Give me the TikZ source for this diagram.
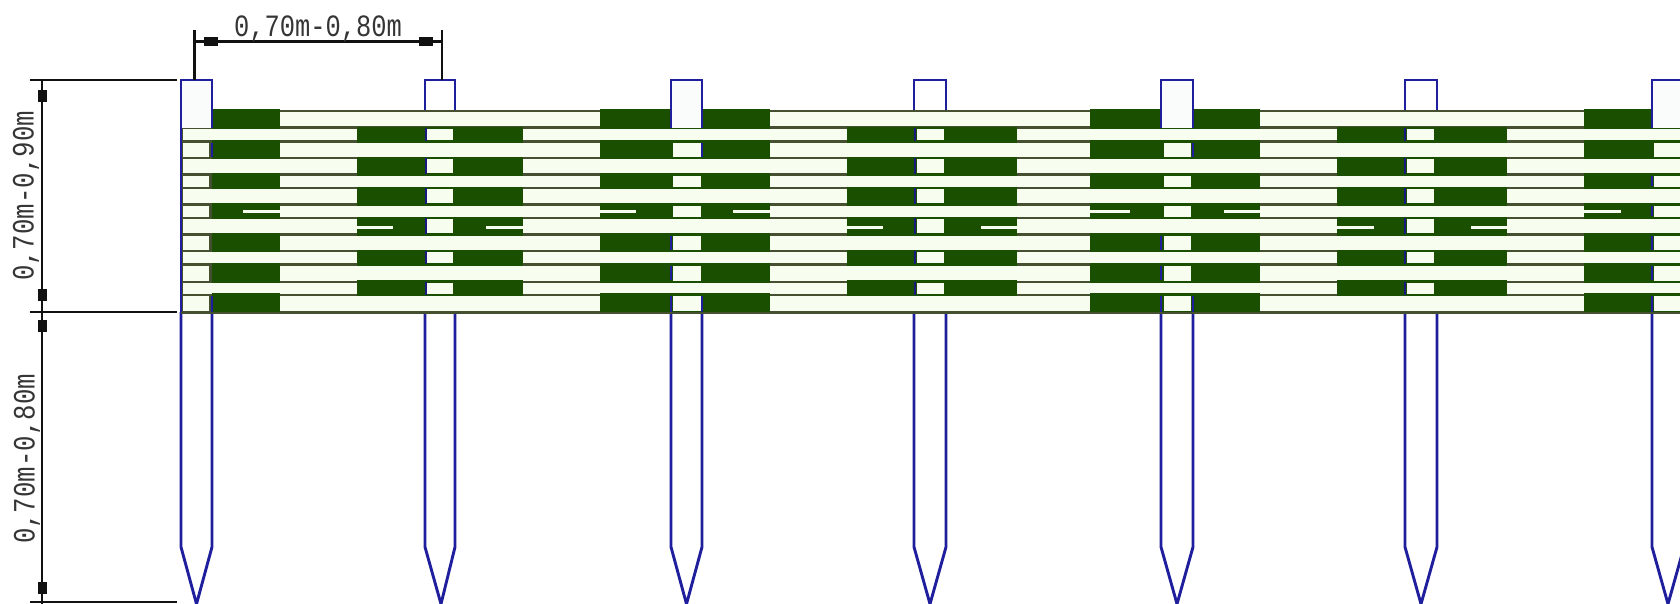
\documentclass[tikz,border=0pt]{standalone}
\usepackage{fontspec}
\newfontfamily\dimfont{Liberation Mono}
\definecolor{railgreen}{HTML}{1B4F00}
\definecolor{railline}{HTML}{44502F}
\definecolor{railpale}{HTML}{F7FDEF}
\definecolor{posttop}{HTML}{FAFCFC}
\definecolor{postblue}{HTML}{1F1F9E}
\definecolor{dimink}{HTML}{111111}
\tikzset{
  x=0.5pt,y=-0.5pt,
  postline/.style={draw=postblue,line width=1.45pt,line join=miter},
  dimline/.style={draw=dimink,line width=1.2pt},
  tick/.style={fill=dimink,draw=none},
  dimtext/.style={font=\dimfont\fontsize{15.5}{15.5}\selectfont,text=dimink!85,inner sep=0pt,transform shape},
  darkseg/.style={fill=railgreen,draw=none},
  paleseg/.style={fill=railpale,draw=none}
}
\begin{document}
\begin{tikzpicture}
\path[use as bounding box,fill=white] (0,0) rectangle (1680,604);
\clip (0,0) rectangle (1680,604);
% rail band
\fill[railline] (181,110) rectangle (1680,312.5);
% rows: top/bottom/kind
\foreach \t/\b/\k in {112.5/126.5/1,129.5/140.5/0,143/157.5/1,159.5/173.5/0,176/187/1,189.5/203.5/0,206/217/1,219.5/233.5/0,236/250.5/1,252.5/263.5/0,266/280.5/1,282.5/293.5/0,296/310.5/1}{
  \ifnum\k=1
    \foreach \a/\c in {212/280,600/770,1090/1260,1584/1680}
      \fill[darkseg] (\a,\t-3) rectangle (\c,\b+2.5);
    \foreach \a/\c in {183/209,280/600,673/701,770/1090,1164/1191,1260/1584,1654/1680}
      \fill[paleseg] (\a,\t) rectangle (\c,\b);
  \else
    \foreach \a/\c in {357/523,847/1017,1337/1507}
      \fill[darkseg] (\a,\t-2.5) rectangle (\c,\b+2.5);
    \foreach \a/\c in {183/357,523/847,1017/1337,1507/1680,427/453,917/944,1407/1434}
      \fill[paleseg] (\a,\t) rectangle (\c,\b);
    \foreach \e in {426,915,1405}
      \draw[postline,draw=postblue!80!black] (\e,\t-1) -- (\e,\b+1);
  \fi
}
% pale slits in rows 7 and 8
\foreach \a/\c in {243/280,600/636,733/770,1090/1130,1224/1260,1584/1621}
  \fill[railpale] (\a,210.5) rectangle (\c,213);
\foreach \a/\c in {357/393,486/523,847/883,981/1017,1337/1374,1471/1507}
  \fill[railpale] (\a,226.5) rectangle (\c,229);
% blue edges seen beside the windows of the outer posts
\foreach \e/\p/\q in {212/143/157,702/143/157,1193/143/157,671/236/250,671/266/280,1161/236/250,1161/266/280,1652/176/186,1652/206/216,1652/236/250,1652/266/280,
  212/296/312,671/296/312,702/296/312,1161/296/312,1193/296/312,1652/296/312}
  \draw[postline] (\e,\p) -- (\e,\q);
% posts
\foreach \l/\r/\m in {181/212/196.5,671/702/686.5,1161/1193/1177,1652/1684/1668}{
  \fill[posttop] (\l,80) rectangle (\r,128);
  \draw[postline] (\l,128) -- (\l,80) -- (\r,80) -- (\r,128);
  \draw[postline] (\l,312) -- (\l,547) -- (\m,604) -- (\r,547) -- (\r,312);
}
\foreach \l/\r/\m in {425/455/441,914/946/930,1405/1437/1421}{
  \fill[white] (\l,80) rectangle (\r,110);
  \draw[postline] (\l,110) -- (\l,80) -- (\r,80) -- (\r,110);
  \draw[postline] (\l,313) -- (\l,547) -- (\m,604) -- (\r,547) -- (\r,313);
}
\draw[postline] (181,128) -- (181,312);
\fill[railline] (181,312) rectangle (1680,313.5);
% dimensions
\coordinate (ha) at (194.6,30);
\coordinate (hb) at (442,30);
\coordinate (hal) at (194.6,41.5);
\coordinate (hbl) at (442,41.5);
\coordinate (hae) at (194.6,80);
\coordinate (hbe) at (442,80);
\draw[dimline] (ha) -- (hae);
\draw[dimline] (hb) -- (hbe);
\draw[dimline] (hal) -- (hbl);
\coordinate (t1) at (30,80);  \coordinate (t2) at (177,80);
\coordinate (m1) at (30,312); \coordinate (m2) at (177,312);
\coordinate (b1) at (30,602); \coordinate (b2) at (177,602);
\coordinate (vt) at (42,80);  \coordinate (vb) at (42,604);
\draw[dimline] (t1) -- (t2);
\draw[dimline] (m1) -- (m2);
\draw[dimline] (b1) -- (b2);
\draw[dimline] (vt) -- (vb);
\foreach \x in {211,426}
  \fill[tick] (\x-7,37) rectangle (\x+7,46);
\foreach \y in {96,295,326,588}
  \fill[tick] (37.5,\y-6) rectangle (46.5,\y+6);
\node[dimtext,xscale=.82] (wlabel) at (318,29) {0,70m-0,80m};
\node[dimtext,rotate=90,xscale=.83] (hlabel) at (26,196) {0,70m-0,90m};
\node[dimtext,rotate=90,xscale=.83] (dlabel) at (27,459) {0,70m-0,80m};
\end{tikzpicture}
\end{document}
